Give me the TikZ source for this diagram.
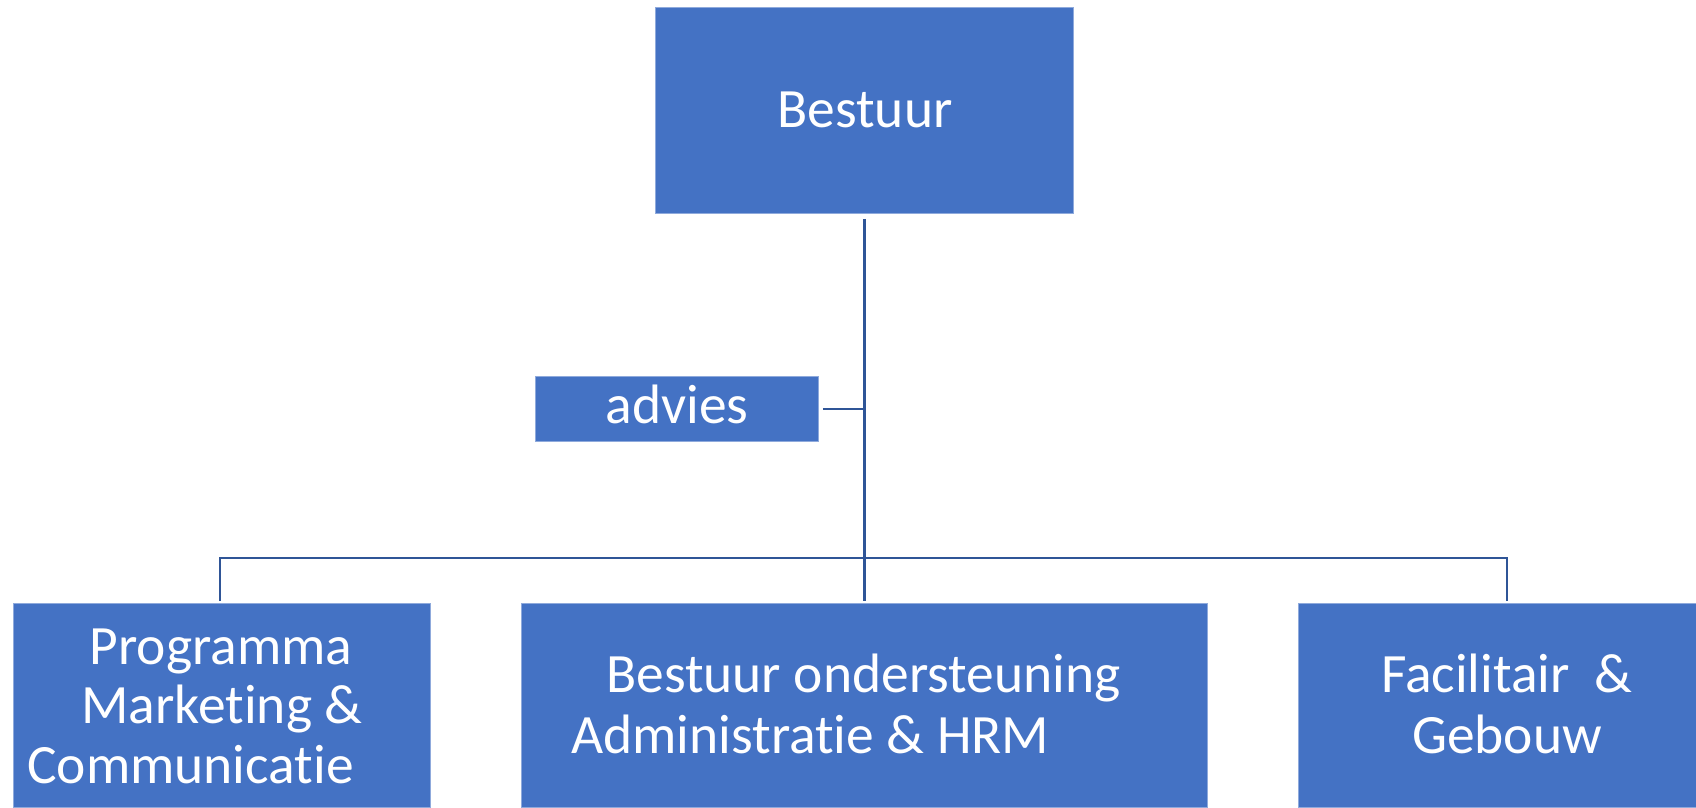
\documentclass[tikz,border=0pt]{standalone}
\usepackage{fontspec}
\setmainfont{Carlito}[Ligatures={NoCommon}, RawFeature={-liga;-clig;-dlig}]
\definecolor{boxblue}{HTML}{4472C4}
\definecolor{lineblue}{HTML}{2F5597}
\begin{document}
\begin{tikzpicture}[x=1pt,y=-1pt,
  box/.style={rectangle, fill=boxblue, draw=boxblue!60!white, line width=0.8pt, inner sep=0pt, anchor=north west},
  txt/.style={text=white, inner sep=0pt, font=\fontsize{55.5}{60}\selectfont},
  conn/.style={draw=lineblue, line width=2.6pt}]
\useasboundingbox (0,0) rectangle (1696,807);
% boxes
\node[box, minimum width=418pt, minimum height=206pt] (bestuur) at (655,7) {};
\node[box, minimum width=283pt, minimum height=65pt] (advies) at (535,376) {};
\node[box, minimum width=417pt, minimum height=204pt] (prog) at (13,603) {};
\node[box, minimum width=686pt, minimum height=204pt] (bo) at (521,603) {};
\node[box, minimum width=398pt, minimum height=204pt] (fac) at (1298,603) {};
% texts
\node[txt, anchor=base] (tb) at (865,127) {Bestuur};
\node[txt, anchor=base] (ta) at (677,423) {advies};
\node[txt, anchor=base] (tp1) at (221,664) {Programma};
\node[txt, anchor=base] (tp2) at (222,723) {Marketing \&};
\node[txt, anchor=base west] (tp3) at (27,783) {Communicatie};
\node[txt, anchor=base west] (to1) at (606,692) {Bestuur ondersteuning};
\node[txt, anchor=base west] (to2) at (571,753) {Administratie \& HRM};
\node[txt, anchor=base] (tf1) at (1507,692) {Facilitair~~\&};
\node[txt, anchor=base] (tf2) at (1507,753) {Gebouw};
% connectors
\coordinate (jl) at (220,558);
\coordinate (jr) at (1507,558);
\draw[conn, shorten <=5pt, shorten >=2pt] (bestuur.south) -- (bo.north);
\draw[conn, shorten <=4pt] (advies.east) -- (advies.east -| bestuur.south);
\draw[conn] ([yshift=2pt]prog.north -| jl) -- (jl) -- (jr) -- ([yshift=2pt]fac.north -| jr);
\end{tikzpicture}
\end{document}
